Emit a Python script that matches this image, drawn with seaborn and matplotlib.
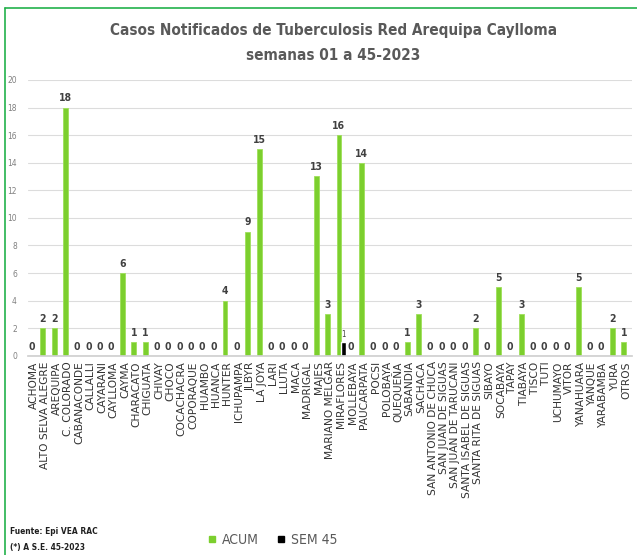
import pandas as pd
import seaborn as sns
import matplotlib.pyplot as plt
from matplotlib.lines import Line2D

# data
distritos = ['ACHOMA', 'ALTO SELVA ALEGRE', 'AREQUIPA', 'C. COLORADO', 'CABANACONDE',
             'CALLALLI', 'CAYARANI', 'CAYLLOMA', 'CAYMA', 'CHARACATO', 'CHIGUATA',
             'CHIVAY', 'CHOCO', 'COCACHACRA', 'COPORAQUE', 'HUAMBO', 'HUANCA', 'HUNTER',
             'ICHUPAMPA', 'JLBYR', 'LA JOYA', 'LARI', 'LLUTA', 'MACA', 'MADRIGAL', 'MAJES',
             'MARIANO MELGAR', 'MIRAFLORES', 'MOLLEBAYA', 'PAUCARPATA', 'POCSI', 'POLOBAYA',
             'QUEQUEÑA', 'SABANDIA', 'SACHACA', 'SAN ANTONIO DE CHUCA', 'SAN JUAN DE SIGUAS',
             'SAN JUAN DE TARUCANI', 'SANTA ISABEL DE SIGUAS', 'SANTA RITA DE SIGUAS',
             'SIBAYO', 'SOCABAYA', 'TAPAY', 'TIABAYA', 'TISCO', 'TUTI', 'UCHUMAYO', 'VITOR',
             'YANAHUARA', 'YANQUE', 'YARABAMBA', 'YURA', 'OTROS']
acum = [0, 2, 2, 18, 0, 0, 0, 0, 6, 1, 1,
        0, 0, 0, 0, 0, 0, 4,
        0, 9, 15, 0, 0, 0, 0, 13,
        3, 16, 0, 14, 0, 0,
        0, 1, 3, 0, 0,
        0, 0, 2,
        0, 5, 0, 3, 0, 0, 0, 0,
        5, 0, 0, 2, 1]
sem45 = [0] * len(distritos)
sem45[distritos.index('MIRAFLORES')] = 1

df = pd.concat([
    pd.DataFrame({'Distrito': distritos, 'Serie': 'ACUM', 'Casos': acum}),
    pd.DataFrame({'Distrito': distritos, 'Serie': 'SEM 45', 'Casos': sem45}),
])

sns.set_theme(style="white")
plt.rcParams['font.family'] = ['DejaVu Sans']
verde = '#7ccf2e'
cond = dict(family='DejaVu Sans', stretch='condensed')

fig = plt.figure(figsize=(6.37, 5.55), dpi=100)
ax = fig.add_axes([0.044, 0.359, 0.948, 0.497])

sns.barplot(data=df, x='Distrito', y='Casos', hue='Serie', order=distritos,
            palette={'ACUM': verde, 'SEM 45': '#000000'}, width=0.85,
            dodge=True, legend=False, ax=ax, saturation=1)
for bar in ax.containers[0]:
    bar.set_edgecolor('#9ee05a')
    bar.set_linewidth(0.6)

ax.bar_label(ax.containers[0], labels=[str(v) for v in acum], padding=3,
             fontsize=7.5, fontweight='bold', color='#404040', **cond)
ax.bar_label(ax.containers[1], labels=[str(v) if v else '' for v in sem45], padding=2,
             fontsize=5.5, color='#404040', **cond)

ax.set_ylim(0, 20)
ax.set_yticks(range(0, 21, 2))
ax.yaxis.grid(True, color='#dcdcdc', linewidth=0.8)
ax.set_axisbelow(True)
for s in ['top', 'right', 'left']:
    ax.spines[s].set_visible(False)
ax.spines['bottom'].set_color('#d0d0d0')
ax.tick_params(axis='y', labelsize=5.5, colors='#808080', length=0, pad=8)
ax.tick_params(axis='x', length=0, pad=4)
ax.set_xticks(range(len(distritos)))
ax.set_xticklabels(distritos, rotation=90, fontsize=7.7, fontweight='normal',
                   color='#333333')
ax.set_xlabel('')
ax.set_ylabel('')

fig.text(0.523, 0.945, 'Casos Notificados de Tuberculosis Red Arequipa Caylloma',
         ha='center', va='center', fontsize=11, fontweight='bold', color='#595959', **cond)
fig.text(0.523, 0.900, 'semanas 01 a 45-2023', ha='center', va='center',
         fontsize=11, fontweight='bold', color='#595959', **cond)

handles = [Line2D([], [], marker='s', linestyle='', markersize=5, color=verde),
           Line2D([], [], marker='s', linestyle='', markersize=5, color='#000000')]
fig.legend(handles, ['ACUM', 'SEM 45'], loc='center', bbox_to_anchor=(0.42, 0.027),
           ncol=2, frameon=False, handletextpad=-0.3, columnspacing=0.6,
           prop={'family': 'DejaVu Sans', 'stretch': 'condensed', 'size': 10},
           labelcolor='#595959')

fig.text(0.016, 0.043, 'Fuente: Epi VEA RAC', fontsize=6, fontweight='bold',
         color='#202020', va='center', **cond)
fig.text(0.016, 0.014, '(*) A S.E. 45-2023', fontsize=6, fontweight='bold',
         color='#202020', va='center', **cond)

# green frame at left and top
fig.add_artist(Line2D([0.008, 0.008], [0.0, 0.985], color='#22b14c', linewidth=1.2,
                      transform=fig.transFigure))
fig.add_artist(Line2D([0.008, 1.0], [0.985, 0.985], color='#22b14c', linewidth=1.2,
                      transform=fig.transFigure))

fig.savefig('out.png', dpi=100)
